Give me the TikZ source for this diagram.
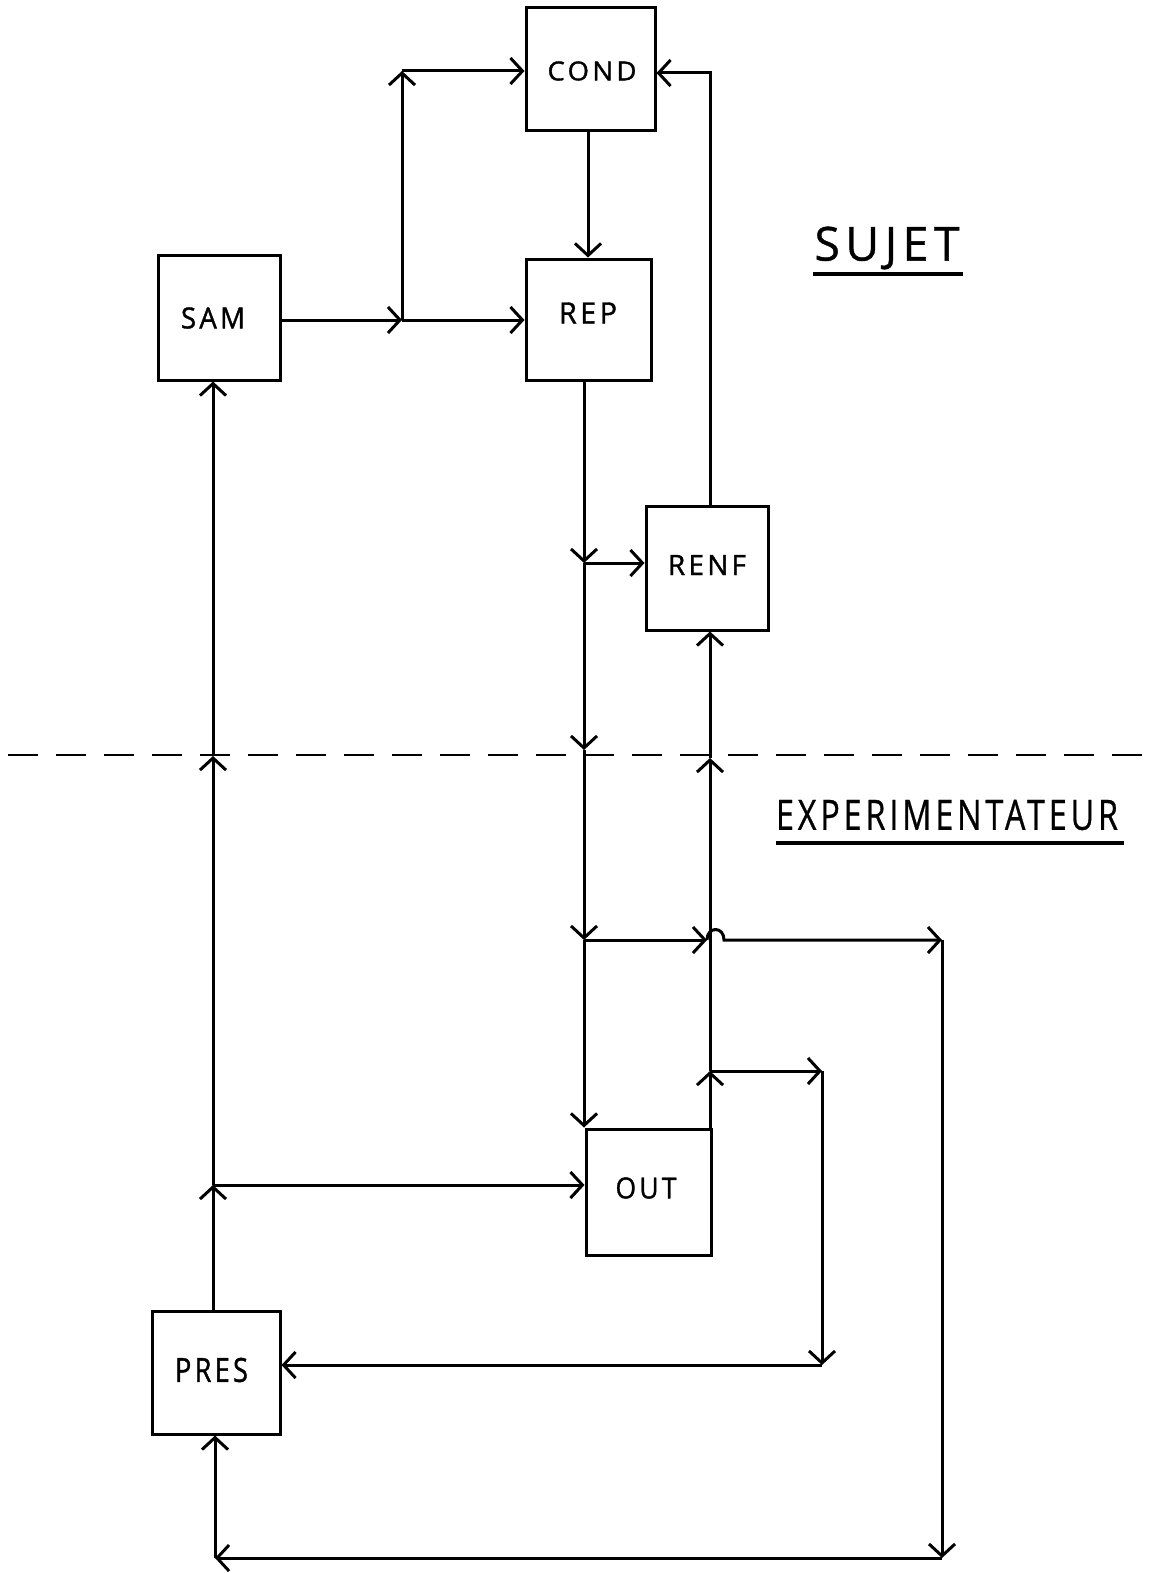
\documentclass[tikz,border=0pt]{standalone}
\usepackage{fontspec}
\setmainfont{Open Sans}
\newfontfamily\boxfont[LetterSpace=12,FakeBold=1.3]{Open Sans}
\newfontfamily\titlefont[LetterSpace=12,FakeBold=0.8]{Open Sans}
\newcommand{\mylbl}[3]{\resizebox{#1pt}{#2pt}{\boxfont #3}}
\newcommand{\mytitle}[3]{\resizebox{#1pt}{#2pt}{\titlefont #3}}
\usetikzlibrary{arrows.meta}
\begin{document}
\begin{tikzpicture}[x=1pt,y=-1pt,
  line width=3pt,
  blk/.style={draw, rectangle, inner sep=0pt, minimum width=125pt, minimum height=124pt},
  txt/.style={inner sep=0pt},
  arr/.style={-{Straight Barb[length=12pt,width=26pt]}},
  sep/.style={dash pattern=on 30pt off 18pt, line width=2.8pt}
]
\useasboundingbox (0,0) rectangle (1154,1573);
% boxes
\node[blk, minimum width=129pt, minimum height=123pt] (COND) at (590.5,69.5) {};
\node[blk, minimum width=122pt, minimum height=125pt] (SAM) at (219,317.5) {};
\node[blk, minimum width=125pt, minimum height=121pt] (REP) at (588.5,319.5) {};
\node[blk, minimum width=122pt, minimum height=124pt] (RENF) at (707,568) {};
\node[blk, minimum width=125pt, minimum height=126pt] (OUT) at (648.5,1192) {};
\node[blk, minimum width=128pt, minimum height=123pt] (PRES) at (216,1372.5) {};
% box labels
\node[txt] (tCOND) at (592,71) {\mylbl{89}{19}{COND}};
\node[txt] (tSAM) at (213,318) {\mylbl{64}{21}{SAM}};
\node[txt] (tREP) at (588,313) {\mylbl{58}{21}{REP}};
\node[txt] (tRENF) at (707,565) {\mylbl{78}{20}{RENF}};
\node[txt] (tOUT) at (646,1188) {\mylbl{61}{21}{OUT}};
\node[txt] (tPRES) at (211.5,1370) {\mylbl{73}{24}{PRES}};
% titles
\node[txt] (sujet) at (887,248) {\mytitle{145}{34}{SUJET}};
\node[txt] (exper) at (947,815) {\mytitle{342}{30}{EXPERIMENTATEUR}};
\draw[line width=3.2pt] (813,274) -- (963,274);
\draw[line width=3.2pt] (776,843) -- (1124,843);
% separator
\draw[sep] (8,755) -- (1154,755);
% junction coordinates
\coordinate (J1) at (402,320);
\coordinate (J2) at (402,71);
\coordinate (J0) at (588,131);
\coordinate (J3) at (584,563);
\coordinate (J4) at (584,750);
\coordinate (J5) at (584,940);
\coordinate (H1) at (707,940);
\coordinate (H2) at (724,940);
\coordinate (J8) at (942,940);
\coordinate (J9) at (942,1558);
\coordinate (J10) at (215,1558);
\coordinate (J6) at (710,1071);
\coordinate (J7) at (710,758);
\coordinate (J11) at (822,1071);
\coordinate (J12) at (822,1365);
\coordinate (J13) at (213,1185);
\coordinate (J14) at (213,756);
\coordinate (RT) at (710,73);
% connectors
\draw[arr] (SAM.east |- J1) -- (J1);
\draw[arr] (J1) -- (REP.west |- J1);
\draw[arr] (J1) -- (J2);
\draw[arr] (J2) -- (COND.west |- J2);
\draw[arr] (COND.south -| J0) -- (REP.north -| J0);
\draw[arr] (REP.south -| J3) -- (J3);
\draw[arr] (J3) -- (RENF.west |- J3);
\draw[arr] (J3) -- (J4);
\draw[arr] (J4) -- (J5);
\draw[arr] (J5) -- (OUT.north west -| J5);
\draw[arr] (RENF.north -| RT) -- (RT) -- (COND.east |- RT);
\draw[arr] (OUT.north east -| J6) -- (J6);
\draw[arr] (J6) -- (J7);
\draw[arr] (J7) -- (RENF.south -| J7);
\draw[arr] (J5) -- (H1);
\draw[arr] (H1) .. controls (707,926) and (724,926) .. (H2) -- (J8);
\draw[arr] (J8) -- (J9);
\draw[arr] (J9) -- (J10);
\draw[arr] (J10) -- (PRES.south -| J10);
\draw[arr] (J6) -- (J11);
\draw[arr] (J11) -- (J12);
\draw[arr] (J12) -- (PRES.east |- J12);
\draw[arr] (PRES.north -| J13) -- (J13);
\draw[arr] (J13) -- (OUT.west |- J13);
\draw[arr] (J13) -- (J14);
\draw[arr] (J14) -- (SAM.south -| J14);
\end{tikzpicture}
\end{document}
